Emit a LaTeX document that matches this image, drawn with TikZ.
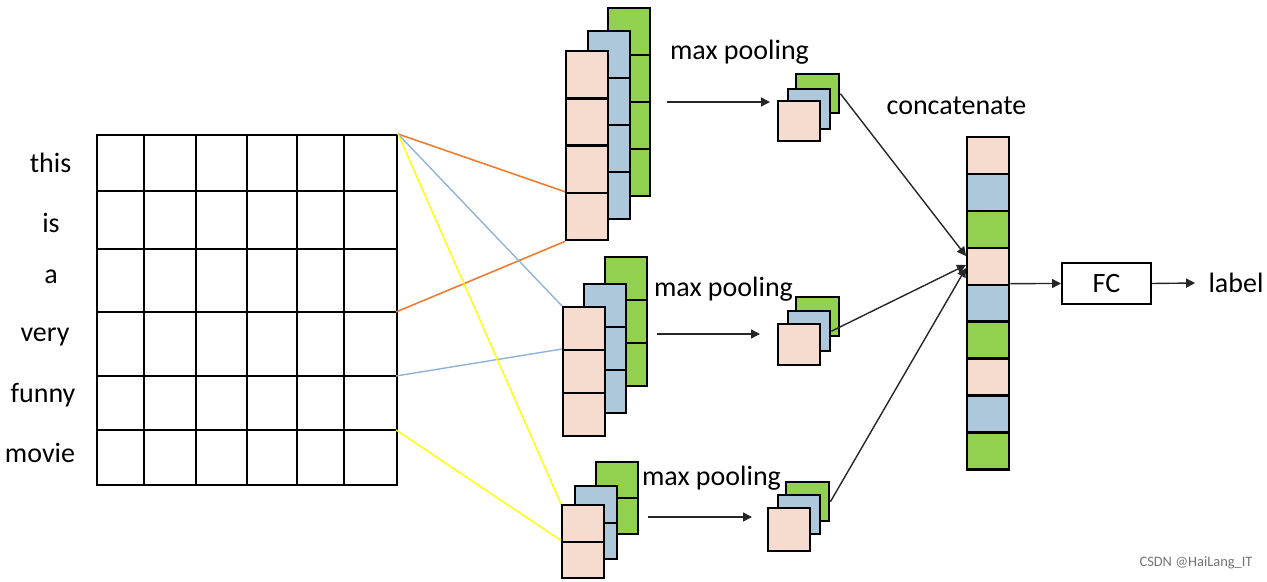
\documentclass[tikz,border=0pt]{standalone}
\usepackage{fontspec}
\setmainfont{Carlito}
\usetikzlibrary{arrows.meta}
\definecolor{pk}{HTML}{F6DBCF}
\definecolor{bl}{HTML}{ADC7DB}
\definecolor{gr}{HTML}{92D050}
\definecolor{orl}{HTML}{ED7D31}
\definecolor{bll}{HTML}{8DB4D6}
\definecolor{yl}{HTML}{FFFF00}
\newcommand\cellcol[6]{%
  \foreach \i in {1,...,#4}{%
    \node[cell, fill=#6, minimum height=#5*0.5pt] (#1\i) at (#2, {#3+(\i-1)*#5}) {};}}
\begin{document}
\begin{tikzpicture}[x=0.5pt, y=-0.5pt,
  cell/.style={draw=black, line width=1.2pt, inner sep=0pt, minimum width=21pt, anchor=north west},
  pool/.style={draw=black, line width=1.2pt, inner sep=0pt, anchor=north west},
  txt/.style={font=\fontsize{14}{16}\selectfont, inner sep=0pt},
  arr/.style={draw=black!85, line width=0.7pt, -{Triangle[length=4.5pt, width=4.5pt]}},
  oline/.style={draw=orl, line width=0.8pt},
  bline/.style={draw=bll, line width=0.7pt},
  yline/.style={draw=yl, line width=0.7pt}]
\useasboundingbox (0,0) rectangle (1267,582);

% embedding matrix
\node[draw, line width=1pt, minimum width=150pt, minimum height=175pt, anchor=north west, inner sep=0pt] (mat) at (96,134) {};
\foreach \x in {144,196,247,297,344} \draw[line width=1pt] (\x,134) -- (\x,484);
\foreach \y in {191,249,312,376,430} \draw[line width=1pt] (96,\y) -- (396,\y);
\coordinate (r3) at (396,312);
\coordinate (r4) at (396,376);
\coordinate (r5) at (396,430);

% words
\node[txt] (w1) at (50.5,163) {this};
\node[txt] (w2) at (51,223) {is};
\node[txt] (w3) at (51,277) {a};
\node[txt] (w4) at (45,337) {very};
\node[txt] (w5) at (43,395) {funny};
\node[txt] (w6) at (40,453) {movie};

% top filter stack
\cellcol{tg}{607}{7}{4}{47}{gr}
\cellcol{tb}{587}{30}{4}{47}{bl}
\cellcol{tp}{565}{50}{4}{47.25}{pk}
% middle filter stack
\cellcol{mg}{604}{256}{3}{43}{gr}
\cellcol{mb}{583}{283}{3}{43}{bl}
\cellcol{mp}{562}{306}{3}{43}{pk}
% bottom filter stack
\cellcol{bg}{595}{461}{2}{36}{gr}
\cellcol{bb}{574}{485}{2}{36.5}{bl}
\cellcol{bp}{561}{504}{2}{36.5}{pk}

% connectors from matrix to filters
\draw[oline] (mat.north east) -- (tp4.north west);
\draw[oline] (r3) -- (tp4.south west);
\draw[bline] (mat.north east) -- (mp1.north west);
\draw[bline] (r4) -- (mp2.north west);
\draw[yline] (mat.north east) -- (bp1.north west);
\draw[yline] (r5) -- (bp2.north west);

% max pooling labels and arrows
\node[txt] (mpl1) at (739.5,52) {max pooling};
\node[txt] (mpl2) at (723.5,289) {max pooling};
\node[txt] (mpl3) at (711.5,478) {max pooling};
\coordinate (a1s) at (667,102); \coordinate (a1e) at (770,102);
\coordinate (a2s) at (657,334); \coordinate (a2e) at (760,334);
\coordinate (a3s) at (648,517); \coordinate (a3e) at (752,517);
\draw[arr] (a1s) -- (a1e);
\draw[arr] (a2s) -- (a2e);
\draw[arr] (a3s) -- (a3e);

% pooled features
\node[pool, fill=gr, minimum width=21.5pt, minimum height=19.5pt] (tpg) at (795,73) {};
\node[pool, fill=bl, minimum width=21pt, minimum height=20pt] (tpb) at (787,88) {};
\node[pool, fill=pk, minimum width=21pt, minimum height=20pt] (tpp) at (777,100) {};
\node[pool, fill=gr, minimum width=21.5pt, minimum height=19.5pt] (mpg) at (795,296) {};
\node[pool, fill=bl, minimum width=21pt, minimum height=20pt] (mpb) at (787,310) {};
\node[pool, fill=pk, minimum width=21pt, minimum height=20.5pt] (mpp) at (777,323) {};
\node[pool, fill=gr, minimum width=21.5pt, minimum height=19.5pt] (bpg) at (785,481) {};
\node[pool, fill=bl, minimum width=21pt, minimum height=19.5pt] (bpb) at (777,494) {};
\node[pool, fill=pk, minimum width=21pt, minimum height=21.5pt] (bpp) at (767,507) {};

% concatenated vector
\node[txt] (cat) at (956.5,106) {concatenate};
\foreach \i/\c in {1/pk,2/bl,3/gr,4/pk,5/bl,6/gr,7/pk,8/bl,9/gr}
  \node[cell, fill=\c, minimum height=36.9*0.5pt] (c\i) at (966, {136+(\i-1)*36.9}) {};
\coordinate (in1) at (966,256);
\coordinate (in2) at (966,265);
\coordinate (in3) at (966,268);
\draw[arr] (tpg.east) -- (in1);
\draw[arr] (mpb.east) -- (in2);
\draw[arr] (bpg.east) -- (in3);

% FC and label
\node[draw, line width=1pt, minimum width=44.5pt, minimum height=20.5pt, inner sep=0pt, txt] (fc) at (1106.5,283.5) {FC};
\node[txt, inner xsep=6.5pt] (lab) at (1236,283) {label};
\draw[arr] (c5.north east) -- (fc.west);
\draw[arr] (fc.east) -- (lab.west);

% watermark
\node[font=\fontsize{7.2}{8}\selectfont, text=black!55, inner sep=0pt] (wm) at (1196,563) {CSDN @HaiLang\_IT};
\end{tikzpicture}
\end{document}
